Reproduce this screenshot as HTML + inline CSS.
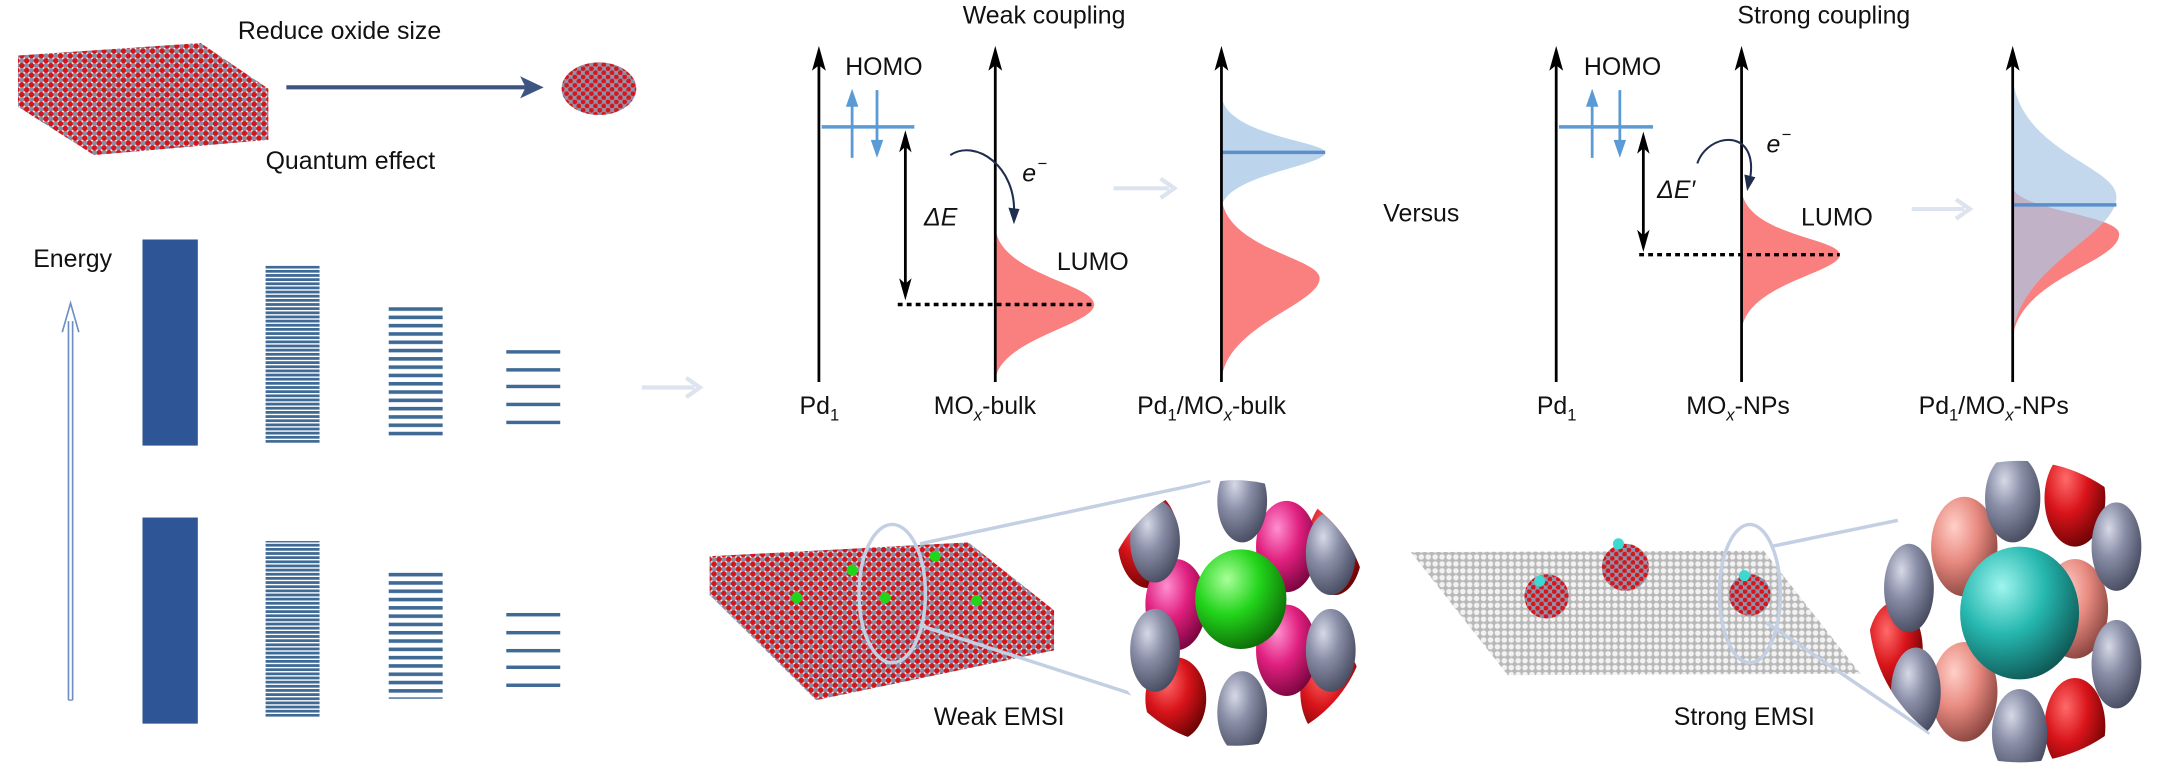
<!DOCTYPE html>
<html><head><meta charset="utf-8"><style>
html,body{margin:0;padding:0;background:#fff;}
svg{display:block;}
text{font-family:"Liberation Sans",Arial,sans-serif;fill:#111;}
</style></head><body>
<svg width="2169" height="775" viewBox="0 0 1568 560" xmlns="http://www.w3.org/2000/svg">
<defs>
<pattern id="atoms" width="7" height="7" patternUnits="userSpaceOnUse">
<rect width="7" height="7" fill="#fff"/>
<circle cx="1.75" cy="1.75" r="1.9" fill="#8a8fa8"/>
<circle cx="5.25" cy="5.25" r="1.9" fill="#8a8fa8"/>
<circle cx="5.25" cy="1.75" r="2" fill="#d4161a"/>
<circle cx="1.75" cy="5.25" r="2" fill="#d4161a"/>
</pattern>
<pattern id="atoms2" width="6" height="6" patternUnits="userSpaceOnUse">
<rect width="6" height="6" fill="#8f94ad"/>
<circle cx="1.5" cy="1.5" r="1.8" fill="#d6161a"/>
<circle cx="4.5" cy="4.5" r="1.8" fill="#d6161a"/>
</pattern>
<pattern id="graph" width="5" height="5" patternUnits="userSpaceOnUse">
<rect width="5" height="5" fill="#b8b8b8"/>
<circle cx="2.5" cy="2.5" r="2" fill="#f2f2f2"/>
</pattern>
<pattern id="l2" width="10" height="3" patternUnits="userSpaceOnUse">
<rect width="10" height="2" fill="#3f6a96"/>
</pattern>
<pattern id="l3" width="10" height="6" patternUnits="userSpaceOnUse">
<rect width="10" height="2.6" fill="#3f6a96"/>
</pattern>
<radialGradient id="gg" cx="0.35" cy="0.3" r="0.8"><stop offset="0" stop-color="#d6d9e6"/><stop offset="0.4" stop-color="#8a8fa8"/><stop offset="1" stop-color="#3e4256"/></radialGradient>
<radialGradient id="gr" cx="0.35" cy="0.3" r="0.8"><stop offset="0" stop-color="#ff6a6a"/><stop offset="0.45" stop-color="#d8141a"/><stop offset="1" stop-color="#5c0000"/></radialGradient>
<radialGradient id="gm" cx="0.35" cy="0.3" r="0.8"><stop offset="0" stop-color="#ff8fd0"/><stop offset="0.45" stop-color="#e0207f"/><stop offset="1" stop-color="#6a0035"/></radialGradient>
<radialGradient id="gG" cx="0.35" cy="0.3" r="0.8"><stop offset="0" stop-color="#a8ff9a"/><stop offset="0.45" stop-color="#22d41a"/><stop offset="1" stop-color="#0a5a05"/></radialGradient>
<radialGradient id="gp" cx="0.35" cy="0.3" r="0.8"><stop offset="0" stop-color="#ffd0c8"/><stop offset="0.45" stop-color="#e88a80"/><stop offset="1" stop-color="#7a3a35"/></radialGradient>
<radialGradient id="gc" cx="0.35" cy="0.3" r="0.8"><stop offset="0" stop-color="#9ff5ee"/><stop offset="0.45" stop-color="#26b8b0"/><stop offset="1" stop-color="#0b4a48"/></radialGradient>
<clipPath id="c1"><circle cx="893" cy="443" r="96"/></clipPath>
<clipPath id="c2"><circle cx="1460" cy="442" r="109"/></clipPath>
</defs>

<!-- top left -->
<polygon points="13,40 145,31 194,64 194,101 68,112 13,77" fill="url(#atoms)"/>
<text x="172" y="28" font-size="18">Reduce oxide size</text>
<text x="192" y="122" font-size="18">Quantum effect</text>
<line x1="207" y1="63" x2="383" y2="63" stroke="#3d5580" stroke-width="3"/>
<polygon points="376,55 393,63 376,71 380,63" fill="#3d5580"/>
<ellipse cx="433" cy="64" rx="27" ry="19" fill="url(#atoms2)"/>

<text x="24" y="193" font-size="18">Energy</text>
<line x1="49.5" y1="232" x2="49.5" y2="506" stroke="#6d8fc4" stroke-width="1.2"/>
<line x1="52.5" y1="232" x2="52.5" y2="506" stroke="#6d8fc4" stroke-width="1.2"/>
<polyline points="45,240 51,219 57,240" fill="none" stroke="#6d8fc4" stroke-width="1.2"/>
<line x1="49.5" y1="506" x2="52.5" y2="506" stroke="#6d8fc4" stroke-width="1"/>

<rect x="103" y="173" width="40" height="149" fill="#2e5596"/>
<rect x="103" y="374" width="40" height="149" fill="#2e5596"/>
<rect x="192" y="192" width="39" height="128" fill="url(#l2)"/>
<rect x="192" y="391" width="39" height="127" fill="url(#l2)"/>
<rect x="281" y="221" width="39" height="94" fill="url(#l3)"/>
<rect x="281" y="411" width="39" height="94" fill="url(#l3)"/>
<g fill="#3f6a96">
<rect x="366" y="253" width="39" height="2.5"/><rect x="366" y="266" width="39" height="2.5"/><rect x="366" y="278" width="39" height="2.5"/><rect x="366" y="291" width="39" height="2.5"/><rect x="366" y="304" width="39" height="2.5"/>
<rect x="366" y="443" width="39" height="2.5"/><rect x="366" y="456" width="39" height="2.5"/><rect x="366" y="469" width="39" height="2.5"/><rect x="366" y="481" width="39" height="2.5"/><rect x="366" y="494" width="39" height="2.5"/>
</g>

<!-- faint arrows -->
<g stroke="#dde4ef" stroke-width="3" fill="none">
<line x1="464" y1="280" x2="502" y2="280"/><polyline points="496,273 506,280 496,287"/>
<line x1="805" y1="136" x2="845" y2="136"/><polyline points="839,129 849,136 839,143"/>
<line x1="1382" y1="151" x2="1420" y2="151"/><polyline points="1414,144 1424,151 1414,158"/>
</g>

<!-- Weak diagram -->
<text x="696" y="17" font-size="18">Weak coupling</text>
<path d="M719.5,164 C722,198 791,205 791,220 C791,235 722,245 719.5,275 Z" fill="#fa8080"/>
<path d="M883,142 C886,180 954,186 954,201 C954,220 886,235 883,275 Z" fill="#fa8080"/>
<path d="M883,69 C886,98 958,102 958,110 C958,120 886,126 883,150 Z" fill="#bcd5ec"/>
<line x1="883" y1="110" x2="958" y2="110" stroke="#5b8fcc" stroke-width="2.5"/>
<g stroke="#000" stroke-width="2">
<line x1="592" y1="40" x2="592" y2="276"/>
<line x1="719.5" y1="40" x2="719.5" y2="276"/>
<line x1="883" y1="40" x2="883" y2="276"/>
<line x1="1125" y1="40" x2="1125" y2="276"/>
</g>
<g fill="#000">
<polygon points="592,33 597,51 592,47 587,51"/>
<polygon points="719.5,33 724.5,51 719.5,47 714.5,51"/>
<polygon points="883,33 888,51 883,47 878,51"/>
<polygon points="1125,33 1130,51 1125,47 1120,51"/>
<polygon points="1259,33 1264,51 1259,47 1254,51"/>
<polygon points="1455,33 1460,51 1455,47 1450,51"/>
</g>
<text x="611" y="54" font-size="18">HOMO</text>
<line x1="594" y1="91.6" x2="661" y2="91.6" stroke="#5b9bd5" stroke-width="2.5"/>
<line x1="616" y1="72" x2="616" y2="114" stroke="#5b9bd5" stroke-width="2"/>
<polygon points="616,64 620.5,77 611.5,77" fill="#5b9bd5"/>
<line x1="634" y1="65" x2="634" y2="106" stroke="#5b9bd5" stroke-width="2"/>
<polygon points="634,114 638.5,101 629.5,101" fill="#5b9bd5"/>
<line x1="654.5" y1="102" x2="654.5" y2="209" stroke="#000" stroke-width="2"/>
<polygon points="654.5,94 659,110 654.5,106 650,110" fill="#000"/>
<polygon points="654.5,217 659,201 654.5,205 650,201" fill="#000"/>
<text x="668" y="163" font-size="18" font-style="italic">ΔE</text>
<line x1="649" y1="220" x2="791" y2="220" stroke="#000" stroke-width="2.5" stroke-dasharray="3.5,3"/>
<path d="M687,112 C705,100 735,120 733,155" fill="none" stroke="#1f2d4f" stroke-width="1.5"/>
<polygon points="733,162 729,150 737,151" fill="#1f2d4f"/>
<text x="739" y="131" font-size="18" font-style="italic">e</text><text x="750" y="122" font-size="12">−</text>
<text x="764" y="195" font-size="18">LUMO</text>
<text x="578" y="299" font-size="18">Pd<tspan font-size="12" dy="5">1</tspan></text>
<text x="675" y="299" font-size="18">MO<tspan font-size="12" dy="5" font-style="italic">x</tspan><tspan dy="-5">-bulk</tspan></text>
<text x="822" y="299" font-size="18">Pd<tspan font-size="12" dy="5">1</tspan><tspan dy="-5">/MO</tspan><tspan font-size="12" dy="5" font-style="italic">x</tspan><tspan dy="-5">-bulk</tspan></text>

<text x="1000" y="160" font-size="18">Versus</text>

<!-- Strong diagram -->
<text x="1256" y="17" font-size="18">Strong coupling</text>
<path d="M1259,137 C1262,170 1330,172 1330,184 C1330,197 1262,205 1259,239 Z" fill="#fa8080"/>
<path d="M1455,135 C1458,152 1532,155 1532,169 C1532,190 1462,200 1455,243 Z" fill="#fa8080"/>
<path d="M1455,57 C1462,110 1530,120 1530,142 C1530,170 1462,190 1455,241 Z" fill="#a9c7e6" opacity="0.7"/>
<line x1="1455" y1="148" x2="1530" y2="148" stroke="#5b8fcc" stroke-width="2.5"/>
<g stroke="#000" stroke-width="2"><line x1="1259" y1="40" x2="1259" y2="276"/><line x1="1455" y1="40" x2="1455" y2="276"/></g>
<text x="1145" y="54" font-size="18">HOMO</text>
<line x1="1127" y1="91.6" x2="1195" y2="91.6" stroke="#5b9bd5" stroke-width="2.5"/>
<line x1="1151" y1="72" x2="1151" y2="114" stroke="#5b9bd5" stroke-width="2"/>
<polygon points="1151,64 1155.5,77 1146.5,77" fill="#5b9bd5"/>
<line x1="1171" y1="65" x2="1171" y2="106" stroke="#5b9bd5" stroke-width="2"/>
<polygon points="1171,114 1175.5,101 1166.5,101" fill="#5b9bd5"/>
<line x1="1188" y1="103" x2="1188" y2="174" stroke="#000" stroke-width="2"/>
<polygon points="1188,95 1192.5,111 1188,107 1183.5,111" fill="#000"/>
<polygon points="1188,182 1192.5,166 1188,170 1183.5,166" fill="#000"/>
<text x="1198" y="143" font-size="18" font-style="italic">ΔE′</text>
<line x1="1185" y1="184" x2="1330" y2="184" stroke="#000" stroke-width="2.5" stroke-dasharray="3.5,3"/>
<path d="M1227,118 C1235,95 1272,92 1265,130" fill="none" stroke="#1f2d4f" stroke-width="1.5"/>
<polygon points="1263,138 1261,126 1269,128" fill="#1f2d4f"/>
<text x="1277" y="110" font-size="18" font-style="italic">e</text><text x="1288" y="101" font-size="12">−</text>
<text x="1302" y="163" font-size="18">LUMO</text>
<text x="1111" y="299" font-size="18">Pd<tspan font-size="12" dy="5">1</tspan></text>
<text x="1219" y="299" font-size="18">MO<tspan font-size="12" dy="5" font-style="italic">x</tspan><tspan dy="-5">-NPs</tspan></text>
<text x="1387" y="299" font-size="18">Pd<tspan font-size="12" dy="5">1</tspan><tspan dy="-5">/MO</tspan><tspan font-size="12" dy="5" font-style="italic">x</tspan><tspan dy="-5">-NPs</tspan></text>

<!-- bottom weak -->
<polygon points="513,402 700,392 762,441 762,470 590,506 513,430" fill="url(#atoms)"/>
<g fill="#22d41a"><circle cx="616" cy="412" r="4"/><circle cx="676" cy="402" r="4"/><circle cx="576" cy="432" r="4"/><circle cx="640" cy="432" r="4"/><circle cx="706" cy="434" r="4"/></g>
<ellipse cx="645" cy="429" rx="24" ry="50" fill="none" stroke="#c3cfe3" stroke-width="2.5"/>
<line x1="665" y1="393" x2="875" y2="348" stroke="#c3cfe3" stroke-width="2.5"/>
<line x1="665" y1="452" x2="860" y2="515" stroke="#c3cfe3" stroke-width="2.5"/>
<g clip-path="url(#c1)">
<circle cx="893" cy="443" r="96" fill="#fff"/>
<ellipse cx="830" cy="390" rx="22" ry="35" fill="url(#gr)"/>
<ellipse cx="962" cy="500" rx="22" ry="35" fill="url(#gr)"/>
<ellipse cx="850" cy="505" rx="22" ry="30" fill="url(#gr)"/>
<ellipse cx="965" cy="395" rx="20" ry="35" fill="url(#gr)"/>
<ellipse cx="930" cy="395" rx="22" ry="33" fill="url(#gm)"/>
<ellipse cx="850" cy="437" rx="22" ry="33" fill="url(#gm)"/>
<ellipse cx="930" cy="470" rx="22" ry="33" fill="url(#gm)"/>
<ellipse cx="835" cy="391" rx="18" ry="30" fill="url(#gg)"/>
<ellipse cx="835" cy="470" rx="18" ry="30" fill="url(#gg)"/>
<ellipse cx="898" cy="362" rx="18" ry="30" fill="url(#gg)"/>
<ellipse cx="898" cy="515" rx="18" ry="30" fill="url(#gg)"/>
<ellipse cx="962" cy="400" rx="18" ry="30" fill="url(#gg)"/>
<ellipse cx="962" cy="470" rx="18" ry="30" fill="url(#gg)"/>
<ellipse cx="897" cy="433" rx="33" ry="36" fill="url(#gG)"/>
</g>
<text x="675" y="524" font-size="18">Weak EMSI</text>

<!-- bottom strong -->
<polygon points="1020,399 1275,398 1345,487 1090,488" fill="url(#graph)"/>
<circle cx="1118" cy="431" r="16" fill="url(#atoms2)"/>
<circle cx="1175" cy="410" r="17" fill="url(#atoms2)"/>
<circle cx="1265" cy="430" r="15" fill="url(#atoms2)"/>
<g fill="#3dd9d0"><circle cx="1113" cy="420" r="4"/><circle cx="1170" cy="393" r="4"/><circle cx="1261" cy="416" r="4"/></g>
<ellipse cx="1265" cy="429" rx="22" ry="50" fill="none" stroke="#c3cfe3" stroke-width="2.5"/>
<line x1="1280" y1="395" x2="1372" y2="376" stroke="#c3cfe3" stroke-width="2.5"/>
<line x1="1277" y1="450" x2="1395" y2="530" stroke="#c3cfe3" stroke-width="2.5"/>
<g clip-path="url(#c2)">
<circle cx="1460" cy="442" r="109" fill="#fff"/>
<ellipse cx="1500" cy="360" rx="22" ry="35" fill="url(#gr)"/>
<ellipse cx="1370" cy="470" rx="20" ry="35" fill="url(#gr)"/>
<ellipse cx="1500" cy="525" rx="22" ry="35" fill="url(#gr)"/>
<ellipse cx="1420" cy="395" rx="24" ry="36" fill="url(#gp)"/>
<ellipse cx="1500" cy="440" rx="24" ry="36" fill="url(#gp)"/>
<ellipse cx="1420" cy="500" rx="24" ry="36" fill="url(#gp)"/>
<ellipse cx="1455" cy="360" rx="20" ry="32" fill="url(#gg)"/>
<ellipse cx="1380" cy="425" rx="18" ry="32" fill="url(#gg)"/>
<ellipse cx="1530" cy="395" rx="18" ry="32" fill="url(#gg)"/>
<ellipse cx="1530" cy="480" rx="18" ry="32" fill="url(#gg)"/>
<ellipse cx="1385" cy="500" rx="18" ry="32" fill="url(#gg)"/>
<ellipse cx="1460" cy="530" rx="20" ry="32" fill="url(#gg)"/>
<ellipse cx="1460" cy="443" rx="43" ry="48" fill="url(#gc)"/>
</g>
<text x="1210" y="524" font-size="18">Strong EMSI</text>
</svg>
</body></html>
